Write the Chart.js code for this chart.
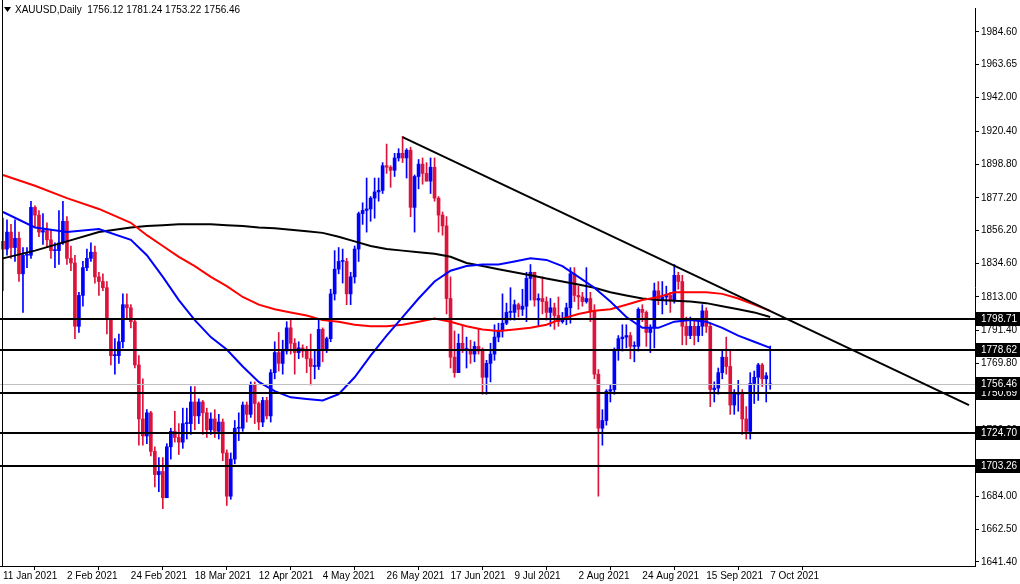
<!DOCTYPE html>
<html>
<head>
<meta charset="utf-8">
<script src="https://cdn.jsdelivr.net/npm/chart.js@4"></script>
<style>
  html, body { margin: 0; padding: 0; background: #fff; }
  #wrap { width: 1020px; height: 584px; }
</style>
</head>
<body>
<div id="wrap"><canvas id="chart"></canvas></div>
<script>
// Daily bars, 11 Jan 2021 .. 7 Oct 2021
const opens = [
  1849,1844,1855,1845,1851,1828,1840,1840,1871,1866,1855,1856,1850,1843,1843,
  1848,1862,1838,1835,1794,1814,1832,1838,1842,1826,1823,1819,1799,1775,1775,1784,1808,1806,1797,1769,
  1734,1723,1738,1713,1698,1700,1683,1716,1726,1722,1719,1731,1731,1745,1736,1745,1738,1727,1734,1726,1732,1712,1684,
  1708,1728,1728,1743,1737,1756,1744,1732,1746,1736,1764,1777,1770,1778,1793,1783,1777,1780,1778,1773,1768,
  1768,1792,1779,1786,1815,1831,1836,1836,1815,1826,1844,1867,1869,1870,1877,1881,1882,1898,1897,1895,1903,
  1906,1903,1908,1871,1891,1899,1893,1888,1897,1877,1866,1859,1812,1774,1764,1783,1779,1779,1776,1781,1778,1761,
  1770,1776,1787,1791,1796,1803,1803,1808,1805,1807,1825,1829,1811,1812,1810,1803,1806,1801,1797,1799,1806,1828,
  1814,1813,1810,1812,1804,1763,1728,1733,1752,1753,1779,1786,1787,1788,1781,1781,1805,1803,1790,1793,1817,1811,
  1813,1814,1811,1827,1823,1794,1788,1794,1788,1794,1804,1794,1753,1754,1764,1774,1768,1743,1750,1750,1734,1726,
  1757,1761,1769,1760,1756.12
];
const highs = [
  1864,1863,1860,1863,1855,1845,1845,1875,1872,1869,1867,1861,1856,1848,1869,
  1875,1865,1846,1840,1816,1836,1844,1848,1846,1829,1828,1823,1799,1786,1789,1815,1815,1808,1799,1775,
  1760,1740,1739,1716,1709,1709,1718,1728,1739,1731,1741,1741,1755,1755,1747,1746,1741,1738,1740,1737,1734,1714,1712,
  1733,1738,1745,1745,1758,1758,1745,1748,1748,1766,1784,1790,1785,1797,1798,1786,1784,1782,1781,1789,1778,
  1798,1793,1787,1818,1843,1845,1844,1838,1829,1846,1868,1874,1890,1878,1890,1890,1900,1912,1898,1906,1909,
  1917,1909,1910,1892,1902,1903,1900,1903,1903,1878,1868,1865,1826,1791,1789,1794,1787,1785,1784,1792,1780,1772,
  1783,1795,1796,1815,1809,1819,1811,1809,1818,1829,1834,1829,1815,1826,1813,1812,1809,1813,1803,1809,1832,1832,
  1820,1816,1832,1816,1808,1766,1740,1753,1756,1780,1788,1795,1795,1790,1784,1806,1808,1804,1795,1822,1823,1823,
  1820,1816,1834,1829,1827,1800,1800,1798,1799,1808,1806,1796,1758,1767,1778,1787,1778,1753,1759,1753,1742,1764,
  1765,1770,1770,1764,1781.24
];
const lows = [
  1817,1840,1838,1836,1823,1803,1832,1838,1858,1852,1847,1845,1838,1832,1834,
  1847,1834,1830,1786,1790,1807,1830,1836,1822,1814,1817,1789,1769,1763,1770,1780,1799,1793,1767,1717,
  1717,1718,1710,1690,1687,1676,1686,1708,1719,1711,1715,1721,1724,1727,1731,1724,1722,1724,1722,1721,1707,1678,1682,
  1705,1720,1726,1732,1735,1731,1727,1729,1734,1732,1760,1765,1763,1776,1776,1763,1773,1774,1764,1756,1760,
  1766,1771,1777,1784,1811,1828,1822,1808,1808,1822,1836,1860,1855,1862,1864,1875,1880,1893,1884,1891,1901,
  1900,1890,1865,1855,1883,1886,1888,1880,1875,1855,1853,1802,1767,1761,1765,1777,1767,1770,1771,1776,1750,1750,
  1758,1772,1784,1787,1795,1798,1798,1800,1801,1797,1811,1807,1794,1802,1798,1794,1792,1794,1796,1795,1796,1810,
  1805,1807,1809,1797,1760,1684,1717,1730,1745,1750,1772,1778,1780,1773,1771,1778,1797,1781,1777,1780,1808,1802,
  1808,1803,1809,1818,1782,1782,1786,1782,1784,1788,1790,1742,1745,1750,1760,1763,1737,1737,1739,1724,1721,1721,
  1744,1746,1755,1745,1753.22
];
const closes = [
  1844,1855,1845,1851,1828,1840,1840,1871,1866,1855,1856,1850,1843,1843,1848,
  1862,1838,1835,1794,1814,1832,1838,1842,1826,1823,1819,1799,1775,1775,1784,1808,1806,1797,1769,1734,
  1723,1738,1713,1698,1700,1683,1716,1726,1722,1719,1731,1731,1745,1736,1745,1738,1727,1734,1726,1732,1712,1684,1708,
  1728,1728,1743,1737,1756,1744,1732,1746,1736,1764,1777,1770,1778,1793,1783,1777,1780,1778,1773,1768,1768,
  1792,1779,1786,1815,1831,1836,1836,1815,1826,1844,1867,1869,1870,1877,1881,1882,1898,1897,1895,1903,1906,
  1903,1908,1871,1891,1899,1893,1888,1897,1877,1866,1859,1812,1774,1764,1783,1779,1779,1776,1781,1778,1761,1770,
  1776,1787,1791,1796,1803,1803,1808,1805,1807,1825,1829,1811,1812,1810,1803,1806,1801,1797,1799,1806,1828,1814,
  1813,1810,1812,1804,1763,1728,1733,1752,1753,1779,1786,1787,1788,1781,1781,1805,1803,1790,1793,1817,1811,1813,
  1814,1811,1827,1823,1794,1788,1794,1788,1794,1804,1794,1753,1754,1764,1774,1768,1743,1750,1750,1734,1726,1757,
  1761,1769,1760,1762,1756.46
];

// moving averages at every few bars
const maIdx = [0,8,16,24,32,36,40,44,48,52,56,60,64,68,72,76,80,84,88,92,96,100,104,108,112,116,120,124,128,132,136,140,144,148,152,156,160,164,168,172,176,180,184,188,192];
const maBlue = [1868,1858,1855,1857,1850,1840,1826,1811,1798,1787,1779,1768,1758,1752,1748,1747,1746,1750,1761,1775,1788,1800,1812,1823,1830,1833,1834,1834,1836,1838,1837,1833,1826,1819,1810,1800,1793,1793,1797,1798,1797,1793,1788,1784,1780];
const maRed = [1892,1885,1877,1870,1861,1853,1846,1839,1833,1826,1820,1813,1808,1805,1803,1801,1798,1797,1795,1794,1794,1795,1797,1799,1797,1794,1792,1791,1792,1793,1795,1799,1802,1804,1805,1808,1811,1813,1816,1816,1816,1815,1812,1808,1804];
const maBlack = [1838,1843,1849,1855,1858,1859,1859.5,1860,1860,1860,1859.5,1859,1858,1857.5,1856.5,1855.5,1854.5,1852,1849,1846,1844,1843,1842,1841,1839,1835,1833,1831,1829,1827,1825,1823,1821,1819,1816,1814,1812,1811,1810.5,1810,1809,1807,1805,1803,1800];

const dateTicks = [0,16,32,48,64,80,96,112,128,144,160,176,192];
const dateLabels = ['11 Jan 2021','2 Feb 2021','24 Feb 2021','18 Mar 2021','12 Apr 2021','4 May 2021','26 May 2021','17 Jun 2021','9 Jul 2021','2 Aug 2021','24 Aug 2021','15 Sep 2021','7 Oct 2021'];
const priceTicks = [1984.60,1963.65,1942.00,1920.40,1898.80,1877.20,1856.20,1834.60,1813.00,1791.40,1769.80,1748.20,1726.60,1705.00,1684.00,1662.50,1641.40];
const levels = [1798.71,1778.62,1750.69,1724.70,1703.26];
const lastPrice = 1756.46;
const trendFrom = [100, 1916.5];
const trendTo = [241.75, 1743];
const title = 'XAUUSD,Daily  1756.12 1781.24 1753.22 1756.46';

const BULL = '#0000ff';
const BEAR = '#dc143c';
const FONT = 'Liberation Sans';

const candleColors = closes.map((c, i) => c >= opens[i] ? BULL : BEAR);
const wickData = closes.map((c, i) => ({ x: i, y: [lows[i], highs[i]] }));
const bodyData = closes.map((c, i) => ({ x: i, y: [opens[i], c] }));
const maLine = (vals) => maIdx.map((x, k) => ({ x: x, y: vals[k] }));

const overlay = {
  id: 'overlay',
  afterDatasetsDraw(chart) {
    const { ctx, chartArea: a, scales: { x, y } } = chart;
    ctx.save();
    // current price line
    ctx.strokeStyle = '#c0c0c0';
    ctx.lineWidth = 1;
    let py = Math.round(y.getPixelForValue(lastPrice)) + 0.5;
    ctx.beginPath(); ctx.moveTo(a.left, py); ctx.lineTo(a.right, py); ctx.stroke();
    // horizontal levels
    ctx.strokeStyle = '#000';
    ctx.lineWidth = 2;
    levels.forEach(v => {
      const ly = Math.round(y.getPixelForValue(v));
      ctx.beginPath(); ctx.moveTo(a.left, ly); ctx.lineTo(a.right, ly); ctx.stroke();
    });
    // trend line
    ctx.beginPath();
    ctx.moveTo(x.getPixelForValue(trendFrom[0]), y.getPixelForValue(trendFrom[1]));
    ctx.lineTo(x.getPixelForValue(trendTo[0]), y.getPixelForValue(trendTo[1]));
    ctx.stroke();
    ctx.restore();
  },
  afterDraw(chart) {
    const { ctx, chartArea: a, scales: { y } } = chart;
    ctx.save();
    // price boxes on the right axis
    ctx.font = '10px "' + FONT + '"';
    ctx.textBaseline = 'middle';
    [...levels, lastPrice].forEach(v => {
      const ly = Math.round(y.getPixelForValue(v));
      ctx.fillStyle = '#000';
      ctx.fillRect(a.right + 1, ly - 7, 1020 - a.right, 14);
      ctx.fillStyle = '#fff';
      ctx.fillText(v.toFixed(2), a.right + 6, ly);
    });
    // title
    ctx.fillStyle = '#000';
    ctx.beginPath(); ctx.moveTo(4, 7); ctx.lineTo(11, 7); ctx.lineTo(7.5, 12); ctx.closePath(); ctx.fill();
    ctx.font = '10px "' + FONT + '"';
    ctx.fillText(title, 15, 10);
    // left frame line
    ctx.strokeStyle = '#000';
    ctx.lineWidth = 1;
    ctx.beginPath(); ctx.moveTo(2.5, 0); ctx.lineTo(2.5, a.bottom); ctx.stroke();
    ctx.restore();
  }
};

new Chart(document.getElementById('chart'), {
  type: 'bar',
  data: {
    datasets: [
      { type: 'line', data: maLine(maBlue), borderColor: BULL, borderWidth: 2, pointRadius: 0, order: 0 },
      { type: 'line', data: maLine(maRed), borderColor: '#ff0000', borderWidth: 2, pointRadius: 0, order: 0 },
      { type: 'line', data: maLine(maBlack), borderColor: '#000', borderWidth: 2, pointRadius: 0, order: 0 },
      { data: bodyData, backgroundColor: candleColors, barThickness: 3, minBarLength: 1, grouped: false, order: 1 },
      { data: wickData, backgroundColor: candleColors, barThickness: 1, grouped: false, order: 2 }
    ]
  },
  options: {
    responsive: true,
    maintainAspectRatio: false,
    animation: false,
    events: [],
    layout: { padding: 0 },
    plugins: { legend: { display: false }, tooltip: { enabled: false } },
    scales: {
      x: {
        type: 'linear',
        offset: false,
        min: -0.75,
        max: 243.25,
        afterFit: s => { s.height = 18; },
        afterBuildTicks: s => { s.ticks = dateTicks.map(v => ({ value: v })); },
        grid: { drawOnChartArea: false, drawTicks: true, tickLength: 4, color: '#000' },
        border: { display: true, color: '#000' },
        ticks: {
          autoSkip: false, maxRotation: 0, align: 'start', padding: 0,
          color: '#000', font: { family: FONT, size: 10 },
          callback: v => dateLabels[dateTicks.indexOf(v)]
        }
      },
      y: {
        position: 'right',
        min: 1638.8,
        max: 2000.1,
        afterFit: s => { s.width = 45; },
        afterBuildTicks: s => { s.ticks = priceTicks.map(v => ({ value: v })); },
        grid: { drawOnChartArea: false, drawTicks: true, tickLength: 4, color: '#000' },
        border: { display: true, color: '#000' },
        ticks: {
          autoSkip: false, padding: 2, color: '#000', font: { family: FONT, size: 10 },
          callback: v => v.toFixed(2)
        }
      }
    }
  },
  plugins: [overlay]
});
</script>
</body>
</html>
